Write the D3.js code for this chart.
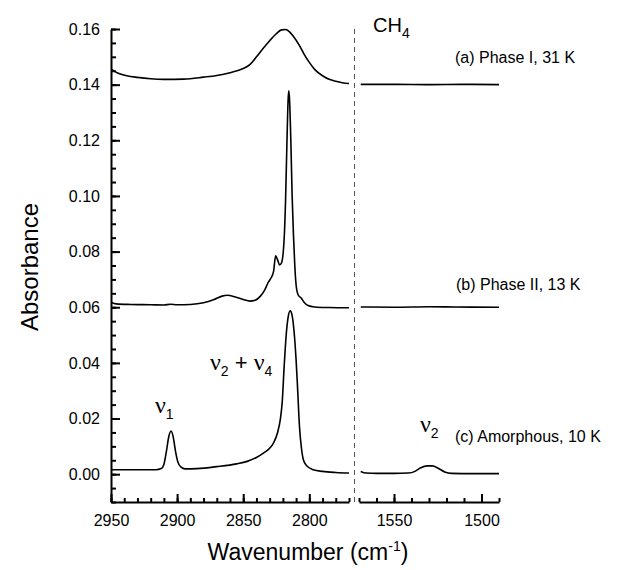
<!DOCTYPE html>
<html>
<head>
<meta charset="utf-8">
<script src="https://cdn.jsdelivr.net/npm/d3@7"></script>
<style>
  body { margin: 0; background: #fff; }
  text { font-family: "Liberation Sans", Arial, sans-serif; fill: #000; }
  .greek { font-family: "Liberation Serif", "Times New Roman", serif; }
</style>
</head>
<body>
<div id="chart"></div>
<script>
// spectra: [wavenumber (cm-1), absorbance]
// (a) Phase I, 31 K
const phaseIHigh = [
  [2950, 0.1456], [2945, 0.1442], [2938, 0.1432], [2930, 0.1426], [2920, 0.1421],
  [2910, 0.1419], [2895, 0.1420], [2880, 0.1427], [2870, 0.1433], [2860, 0.1443],
  [2850, 0.1458], [2845, 0.1472], [2840, 0.1500], [2835, 0.1530], [2830, 0.1558],
  [2825, 0.1583], [2821, 0.1597], [2818, 0.1598], [2815, 0.1590], [2812, 0.1573],
  [2808, 0.1545], [2804, 0.1510], [2800, 0.1480], [2796, 0.1455], [2790, 0.1432],
  [2785, 0.1419], [2780, 0.1412], [2775, 0.1407], [2770, 0.1404]
];
const phaseILow = [
  [1569, 0.1401], [1550, 0.1401], [1530, 0.1400], [1510, 0.1401], [1490, 0.1400]
];

// (b) Phase II, 13 K
const phaseIIHigh = [
  [2950, 0.0618], [2946, 0.0612], [2935, 0.0610], [2920, 0.0609], [2910, 0.0608],
  [2905, 0.0611], [2900, 0.0609], [2890, 0.0610], [2880, 0.0616], [2872, 0.0628],
  [2866, 0.0640], [2862, 0.0643], [2856, 0.0637], [2850, 0.0628], [2845, 0.0622],
  [2841, 0.0625], [2837, 0.0640], [2834, 0.0660], [2831, 0.0690], [2829, 0.0705],
  [2827, 0.0730], [2825.5, 0.0785], [2824, 0.0770], [2822.5, 0.0752], [2821, 0.0760],
  [2819, 0.0850], [2818, 0.0980], [2817, 0.1180], [2816, 0.1350], [2815.5, 0.1378],
  [2815, 0.1350], [2814, 0.1200], [2813, 0.1000], [2812, 0.0860], [2811, 0.0750],
  [2810, 0.0680], [2808.5, 0.0645], [2806, 0.0632], [2804, 0.0618], [2801, 0.0606],
  [2796, 0.0601], [2785, 0.0599], [2770, 0.0598]
];
const phaseIILow = [
  [1569, 0.0601], [1550, 0.0600], [1530, 0.0602], [1515, 0.0601], [1490, 0.0600]
];

// (c) Amorphous, 10 K
const amorphousHigh = [
  [2950, 0.0016], [2930, 0.0016], [2916, 0.0016], [2912, 0.0020], [2910, 0.0035],
  [2908, 0.0085], [2906.5, 0.0130], [2904.6, 0.0155], [2903, 0.0135], [2901.3, 0.0085],
  [2899.5, 0.0045], [2897, 0.0025], [2894, 0.0019], [2885, 0.0020], [2870, 0.0027],
  [2855, 0.0037], [2847, 0.0046], [2840, 0.0060], [2835, 0.0075], [2830, 0.0093],
  [2827, 0.0113], [2824, 0.0150], [2822, 0.0195], [2820.5, 0.0260], [2819, 0.0390],
  [2817.5, 0.0500], [2816, 0.0565], [2814.5, 0.0587], [2813, 0.0570], [2811.5, 0.0510],
  [2810, 0.0410], [2809, 0.0320], [2807.5, 0.0175], [2806, 0.0095], [2804.5, 0.0052],
  [2802, 0.0030], [2797, 0.0016], [2790, 0.0010], [2780, 0.0006], [2770, 0.0004]
];
const amorphousLow = [
  [1569, 0.0010], [1566, 0.0004], [1560, 0.0003], [1550, 0.0003], [1542, 0.0004],
  [1538, 0.0010], [1535, 0.0022], [1531, 0.0030], [1528, 0.0030], [1525, 0.0022],
  [1521, 0.0008], [1517, 0.0003], [1505, 0.0002], [1490, 0.0002]
];

const yTicks = [0, 0.02, 0.04, 0.06, 0.08, 0.10, 0.12, 0.14, 0.16];
const leftTicks = [2950, 2900, 2850, 2800];
const rightTicks = [1550, 1500];

const width = 641, height = 570;

const svg = d3.select('#chart').append('svg')
  .attr('width', width)
  .attr('height', height);

const yScale = d3.scaleLinear().domain([-0.01, 0.16]).range([502, 29]);
const xLeft = d3.scaleLinear().domain([2950, 2770]).range([111, 349]);
const xRight = d3.scaleLinear().domain([1570, 1490]).range([359, 499]);

// y axis (ticks point inward)
const yAxis = svg.append('g')
  .attr('transform', `translate(${xLeft.range()[0]},0)`)
  .call(d3.axisLeft(yScale).tickValues(yTicks).tickSizeInner(-9).tickSizeOuter(0)
    .tickPadding(11).tickFormat(d3.format('.2f')));
svg.append('g')
  .attr('transform', `translate(${xLeft.range()[0]},0)`)
  .call(d3.axisLeft(yScale).tickValues(d3.range(-0.01, 0.1601, 0.005)).tickSize(-5).tickFormat(''))
  .select('.domain').remove();

// x axes, one per panel
function bottomAxis(scale, major, lo, hi) {
  const g = svg.append('g').attr('transform', `translate(0,${yScale.range()[0]})`);
  g.call(d3.axisBottom(scale).tickValues(major).tickSizeInner(-8).tickSizeOuter(0)
    .tickPadding(13).tickFormat(d3.format('d')));
  svg.append('g').attr('transform', `translate(0,${yScale.range()[0]})`)
    .call(d3.axisBottom(scale).tickValues(d3.range(lo, hi + 1, 10)).tickSize(-4).tickFormat(''))
    .select('.domain').remove();
}
bottomAxis(xLeft, leftTicks, 2770, 2950);
bottomAxis(xRight, rightTicks, 1490, 1570);

svg.selectAll('.domain').attr('stroke', '#000').attr('stroke-width', 2);
svg.selectAll('.tick line').attr('stroke', '#000').attr('stroke-width', 2);
svg.selectAll('.tick text').style('font-size', '16px').attr('fill', '#000');

// axis break
svg.append('line')
  .attr('x1', 354.5).attr('x2', 354.5)
  .attr('y1', yScale.range()[1]).attr('y2', yScale.range()[0] + 3)
  .attr('stroke', '#555').attr('stroke-width', 1)
  .attr('stroke-dasharray', '5,4');

// spectra
const lineLeft = d3.line().x(d => xLeft(d[0])).y(d => yScale(d[1])).curve(d3.curveMonotoneX);
const lineRight = d3.line().x(d => xRight(d[0])).y(d => yScale(d[1])).curve(d3.curveMonotoneX);

[phaseIHigh, phaseIIHigh, amorphousHigh].forEach(s => {
  svg.append('path').datum(s).attr('d', lineLeft)
    .attr('fill', 'none').attr('stroke', '#000').attr('stroke-width', 1.6);
});
[phaseILow, phaseIILow, amorphousLow].forEach(s => {
  svg.append('path').datum(s).attr('d', lineRight)
    .attr('fill', 'none').attr('stroke', '#000').attr('stroke-width', 1.6);
});

// axis titles
svg.append('text')
  .attr('transform', 'translate(38,267) rotate(-90)')
  .attr('text-anchor', 'middle')
  .style('font-size', '24px')
  .text('Absorbance');

const xt = svg.append('text')
  .attr('x', 308).attr('y', 560)
  .attr('text-anchor', 'middle')
  .style('font-size', '23px');
xt.append('tspan').text('Wavenumber (cm');
xt.append('tspan').attr('dy', -9).style('font-size', '14px').text('-1');
xt.append('tspan').attr('dy', 9).text(')');

// annotations
const ch4 = svg.append('text').attr('x', 373).attr('y', 32).style('font-size', '20px');
ch4.append('tspan').text('CH');
ch4.append('tspan').attr('dy', 6).style('font-size', '14px').text('4');

svg.append('text').attr('x', 455).attr('y', 63).style('font-size', '16px').text('(a) Phase I, 31 K');
svg.append('text').attr('x', 456).attr('y', 290).style('font-size', '16px').text('(b) Phase II, 13 K');
svg.append('text').attr('x', 455).attr('y', 442).style('font-size', '16px').text('(c) Amorphous, 10 K');

function nu(x, y, sub, extra) {
  const t = svg.append('text').attr('x', x).attr('y', y);
  t.append('tspan').attr('class', 'greek').style('font-size', '24px').text('\u03BD');
  t.append('tspan').attr('dy', 6).style('font-size', '14px').text(sub);
  if (extra) {
    t.append('tspan').attr('dy', -6).style('font-size', '22px').text(' + ');
    t.append('tspan').attr('class', 'greek').style('font-size', '24px').text('\u03BD');
    t.append('tspan').attr('dy', 6).style('font-size', '14px').text(extra);
  }
}
nu(155, 413, '1');
nu(210, 370, '2', '4');
nu(420, 432, '2');
</script>
</body>
</html>
